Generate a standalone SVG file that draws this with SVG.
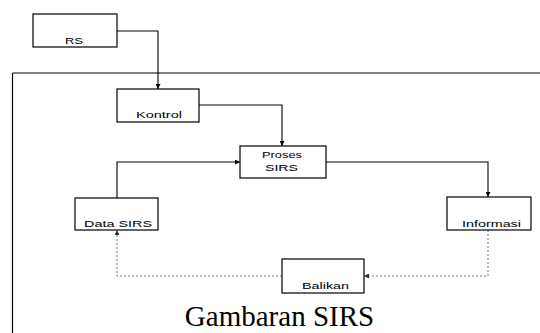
<svg xmlns="http://www.w3.org/2000/svg" width="540" height="333" viewBox="0 0 540 333">
<defs>
<style>
.box{fill:#fff;stroke:#000;stroke-width:1.2}
.lbl{font-family:"Liberation Sans",Arial,sans-serif;font-size:9.5px;fill:#000}
.ln{fill:none;stroke:#000;stroke-width:1.1}
.dash{fill:none;stroke:#777;stroke-width:1;stroke-dasharray:2 2}
</style>
<marker id="ah" viewBox="0 0 6 6" refX="6" refY="3" markerWidth="5" markerHeight="5" orient="auto" markerUnits="userSpaceOnUse">
<path d="M0,0 L6,3 L0,6 z" fill="#000"/>
</marker>
<marker id="ahg" viewBox="0 0 6 6" refX="6" refY="3" markerWidth="5" markerHeight="5" orient="auto" markerUnits="userSpaceOnUse">
<path d="M0,0 L6,3 L0,6 z" fill="#333"/>
</marker>
</defs>
<rect width="540" height="333" fill="#fff"/>
<g id="frame">
<path d="M540,73 H12.5" fill="none" stroke="#555" stroke-width="1.3"/>
<path d="M12.5,73 V333" fill="none" stroke="#000" stroke-width="1.2"/>
</g>
<g id="connectors">
<path class="ln" d="M117,31 H158 V89" marker-end="url(#ah)"/>
<path class="ln" d="M199,105 H282 V146" marker-end="url(#ah)"/>
<path class="ln" d="M117,198 V162 H240" marker-end="url(#ah)"/>
<path class="ln" d="M326,162 H488 V197" marker-end="url(#ah)"/>
<path class="dash" d="M488,230 V276 H364" marker-end="url(#ahg)"/>
<path class="dash" d="M282,276 H117 V230" marker-end="url(#ahg)"/>
</g>
<g id="rs">
<rect class="box" x="33" y="14" width="84" height="33"/>
<text class="lbl" x="65" y="44" textLength="18" lengthAdjust="spacingAndGlyphs">RS</text>
</g>
<g id="kontrol">
<rect class="box" x="117" y="89" width="82" height="33"/>
<text class="lbl" x="136" y="117.5" textLength="46" lengthAdjust="spacingAndGlyphs">Kontrol</text>
</g>
<g id="proses">
<rect class="box" x="240" y="146" width="86" height="32"/>
<text class="lbl" x="262" y="158" textLength="40" lengthAdjust="spacingAndGlyphs">Proses</text>
<text class="lbl" x="265" y="170.5" textLength="33" lengthAdjust="spacingAndGlyphs">SIRS</text>
</g>
<g id="data-sirs">
<rect class="box" x="75" y="198" width="83" height="32"/>
<text class="lbl" x="84" y="227" textLength="68" lengthAdjust="spacingAndGlyphs">Data SIRS</text>
</g>
<g id="informasi">
<rect class="box" x="447" y="197" width="84" height="33"/>
<text class="lbl" x="462" y="227" textLength="59" lengthAdjust="spacingAndGlyphs">Informasi</text>
</g>
<g id="balikan">
<rect class="box" x="282" y="259" width="82" height="34"/>
<text class="lbl" x="302" y="289" textLength="47" lengthAdjust="spacingAndGlyphs">Balikan</text>
</g>
<text x="279.5" y="326" text-anchor="middle" font-family="'Liberation Serif','Times New Roman',serif" font-size="29" fill="#000">Gambaran SIRS</text>
</svg>
